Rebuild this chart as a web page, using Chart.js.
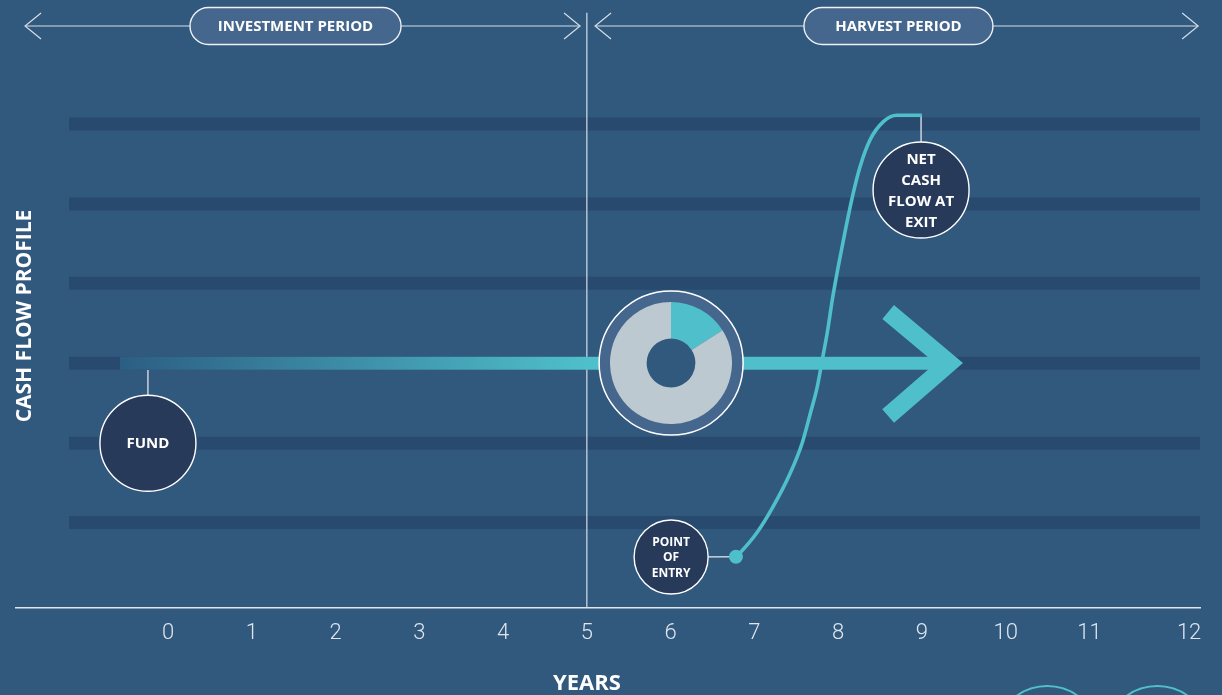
<!DOCTYPE html>
<html><head><meta charset="utf-8">
<script src="https://cdn.jsdelivr.net/npm/chart.js@4.4.1/dist/chart.umd.min.js"></script>
<style>
html,body{margin:0;padding:0;background:#31587d;}
#wrap{position:relative;width:1222px;height:695px;overflow:hidden;background:#31587d;}
#main{position:absolute;left:0;top:0;}
#donut{position:absolute;left:610px;top:302px;}
</style></head><body>
<div id="wrap"><canvas id="main" width="1222" height="695"></canvas><canvas id="donut" width="122" height="122"></canvas></div>
<script>
// ---- data ----
const xTickLabels = ['0','1','2','3','4','5','6','7','8','9','10','11','12'];
const bandLevels = [1.07, 2.06, 3.06, 4.06, 5.05, 6.05];
const curveX = [6.78, 6.83, 7.03, 7.22, 7.43, 7.57, 7.67, 7.75, 7.81, 7.87, 7.93, 8.00, 8.08, 8.17, 8.26, 8.38, 8.54, 8.70, 9.00];
const curveY = [0.64, 0.69, 0.94, 1.26, 1.69, 2.06, 2.44, 2.76, 3.10, 3.44, 3.85, 4.26, 4.69, 5.14, 5.51, 5.85, 6.08, 6.16, 6.16];
const circleLabels = [['FUND'], ['NET','CASH','FLOW AT','EXIT'], ['POINT','OF','ENTRY']];
const circleX = [-0.24, 8.99, 6.006];
const circleY = [2.06, 5.225, 0.6375];
const donutLabels = ['Harvested', 'Remaining'];
const donutValues = [16, 84];
const periodLabels = ['INVESTMENT PERIOD', 'HARVEST PERIOD'];
const axisTitleX = 'YEARS';
const axisTitleY = 'CASH FLOW PROFILE';

// ---- styles ----
const BG = '#31587d', BAND = '#284a6e', TEAL = '#4fbfcb', NAVY = '#283a5a', RING = '#45668d', LINE = '#d5dde6';

const pts = (xs, ys) => xs.map((x, i) => ({x, y: ys[i]}));
const datasets = [];

// bands
bandLevels.forEach(b => datasets.push({data: [{x: -1.182, y: b}, {x: 12.32, y: b}], borderColor: BAND, borderWidth: 13, borderCapStyle: 'butt', pointRadius: 0, order: 100}));

// header arrows & divider
const HY = 7.275, AX = 0.191, AY = 0.1625;
[[-1.707, 4.919], [5.098, 12.298]].forEach(([a, b]) => {
  datasets.push({data: [{x: a, y: HY}, {x: b, y: HY}], borderColor: LINE, borderWidth: 1.2, pointRadius: 0, order: 90});
  datasets.push({data: [{x: a + AX, y: HY + AY}, {x: a, y: HY}, {x: a + AX, y: HY - AY}], borderColor: LINE, borderWidth: 1.2, pointRadius: 0, order: 90});
  datasets.push({data: [{x: b - AX, y: HY + AY}, {x: b, y: HY}, {x: b - AX, y: HY - AY}], borderColor: LINE, borderWidth: 1.2, pointRadius: 0, order: 90});
});
datasets.push({data: [{x: 5, y: 0}, {x: 5, y: 7.44}], borderColor: LINE, borderWidth: 1.2, pointRadius: 0, order: 90});

// shaft with gradient
datasets.push({
  data: [{x: -0.573, y: 3.06}, {x: 9.3, y: 3.06}], borderWidth: 13, borderCapStyle: 'butt', pointRadius: 0, order: 80,
  borderColor: (c) => {
    const ch = c.chart; if (!ch.chartArea) return TEAL;
    const sx = ch.scales.x;
    const g = ch.ctx.createLinearGradient(sx.getPixelForValue(-0.573), 0, sx.getPixelForValue(5.0), 0);
    g.addColorStop(0, '#2c5e83'); g.addColorStop(1, TEAL); return g;
  }
});
// arrow head
datasets.push({data: [{x: 8.597, y: 3.70}, {x: 9.325, y: 3.06}, {x: 8.597, y: 2.40}], borderColor: TEAL, borderWidth: 18, borderJoinStyle: 'miter', borderCapStyle: 'butt', pointRadius: 0, order: 80});

// connectors
[[{x: -0.24, y: 2.975}, {x: -0.24, y: 2.06}], [{x: 8.99, y: 6.16}, {x: 8.99, y: 5.225}], [{x: 6.006, y: 0.6375}, {x: 6.78, y: 0.64}]]
  .forEach(d => datasets.push({data: d, borderColor: '#c9d2dc', borderWidth: 1.5, pointRadius: 0, order: 70}));

// curve
datasets.push({data: pts(curveX, curveY), borderColor: TEAL, borderWidth: 3.6, cubicInterpolationMode: 'monotone', pointRadius: 0, order: 60});

// donut ring + hole
datasets.push({data: [{x: 6.006, y: 3.0625}], showLine: false, pointRadius: 72, pointBackgroundColor: RING, pointBorderColor: '#ffffff', pointBorderWidth: 1.5, order: 50});
datasets.push({data: [{x: 6.006, y: 3.0625}], showLine: false, pointRadius: 24.5, pointBackgroundColor: BG, pointBorderWidth: 0, order: 45});

// label circles
datasets.push({id: 'circles', data: pts(circleX, circleY), showLine: false, pointRadius: [48, 48, 37], pointBackgroundColor: NAVY, pointBorderColor: '#ffffff', pointBorderWidth: 1.4, order: 40});
// entry dot
datasets.push({data: [{x: curveX[0], y: curveY[0]}], showLine: false, pointRadius: 7, pointBackgroundColor: TEAL, pointBorderWidth: 0, order: 30});

const circleIdx = datasets.findIndex(d => d.id === 'circles');

const decor = {
  id: 'decor',
  afterDatasetsDraw(chart) {
    const {ctx, scales: {x, y}} = chart;
    ctx.save();
    // pills
    const pills = [{cx: 1.522, w: 211}, {cx: 8.72, w: 189}];
    pills.forEach((p, i) => {
      const cx = x.getPixelForValue(p.cx), cy = y.getPixelForValue(HY), h = 37, r = h / 2;
      ctx.beginPath();
      ctx.roundRect(cx - p.w / 2, cy - h / 2, p.w, h, r);
      ctx.fillStyle = RING; ctx.fill();
      ctx.lineWidth = 1.4; ctx.strokeStyle = '#eef2f6'; ctx.stroke();
      ctx.fillStyle = '#ffffff'; ctx.font = '700 15px "Open Sans"';
      ctx.textAlign = 'center'; ctx.textBaseline = 'middle';
      ctx.fillText(periodLabels[i], cx, cy + 1);
    });
    // circle labels
    const meta = chart.getDatasetMeta(circleIdx);
    meta.data.forEach((el, i) => {
      const lines = circleLabels[i];
      const small = i === 2;
      const fs = small ? 12 : 15, lh = small ? 15.5 : 21;
      ctx.font = `700 ${fs}px "Open Sans"`;
      ctx.fillStyle = '#ffffff'; ctx.textAlign = 'center'; ctx.textBaseline = 'middle';
      const start = el.y - (lines.length - 1) * lh / 2;
      lines.forEach((t, j) => ctx.fillText(t, el.x, start + j * lh + 1));
    });
    // x axis title centred under the divider
    ctx.font = '700 22px "Open Sans"'; ctx.fillStyle = '#ffffff';
    ctx.textAlign = 'center'; ctx.textBaseline = 'middle';
    ctx.fillText(axisTitleX, x.getPixelForValue(5), y.getPixelForValue(-0.95));
    // y axis title
    ctx.translate(25, y.getPixelForValue(3.65));
    ctx.rotate(-Math.PI / 2);
    ctx.font = '700 21px "Open Sans"';
    ctx.fillText(axisTitleY, 0, 0);
    ctx.restore();
    // partial circles at bottom right
    ctx.save();
    ctx.strokeStyle = TEAL; ctx.lineWidth = 2;
    [10.496, 11.81].forEach(v => {
      ctx.beginPath(); ctx.arc(x.getPixelForValue(v), y.getPixelForValue(-1.625), 52, 0, Math.PI * 2); ctx.stroke();
    });
    ctx.restore();
  }
};

new Chart(document.getElementById('main'), {
  type: 'line',
  data: {datasets},
  options: {
    responsive: false, animation: false, events: [],
    layout: {autoPadding: false, padding: {left: 16, right: 22, top: 0, bottom: 36.6}},
    plugins: {legend: {display: false}, tooltip: {enabled: false}},
    scales: {
      x: {
        type: 'linear', min: -1.815, max: 12.32,
        afterBuildTicks: (axis) => { axis.ticks = xTickLabels.map((l, i) => ({value: i === xTickLabels.length - 1 ? i + 0.19 : i})); },
        ticks: {callback: (v, i) => xTickLabels[i], color: '#dfe5ed', font: {family: 'Roboto', weight: '300', size: 22}, padding: 12, maxRotation: 0, autoSkip: false},
        grid: {display: true, drawOnChartArea: false, drawTicks: false},
        border: {display: true, color: '#dfe5ed', width: 1.5},
        title: {display: false}
      },
      y: {type: 'linear', min: 0, max: 7.6, display: false}
    }
  },
  plugins: [decor]
});

new Chart(document.getElementById('donut'), {
  type: 'doughnut',
  data: {labels: donutLabels, datasets: [{data: donutValues, backgroundColor: [TEAL, '#bdc9d0'], borderWidth: 0}]},
  options: {responsive: false, animation: false, events: [], cutout: '40%', layout: {padding: 0},
    plugins: {legend: {display: false}, tooltip: {enabled: false}}}
});
</script>
</body></html>
